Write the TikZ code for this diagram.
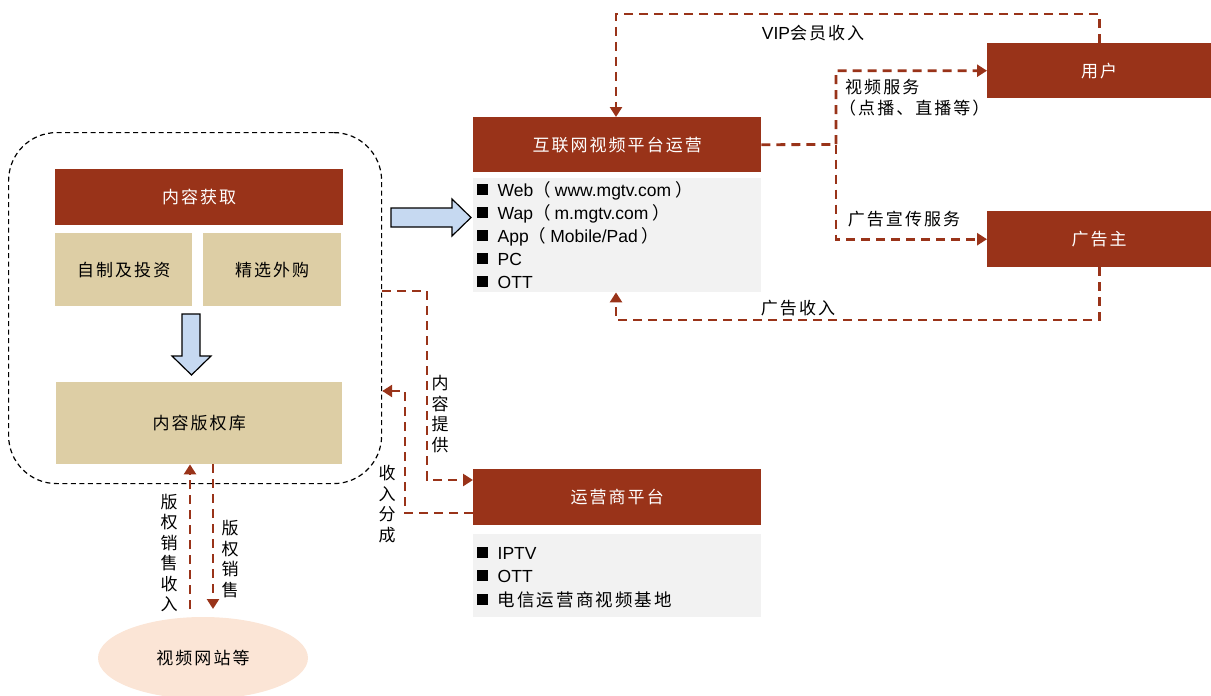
\documentclass[tikz,border=0pt]{standalone}
\usepackage{fontspec}
\setmainfont{Liberation Sans}
\newfontfamily\cjkf{Noto Sans CJK SC}[LetterSpace=12]
\usetikzlibrary{arrows.meta,shapes.geometric}

\definecolor{brick}{RGB}{153,51,25}
\definecolor{sand}{RGB}{221,206,165}
\definecolor{panel}{RGB}{242,242,242}
\definecolor{sky}{RGB}{198,217,241}
\definecolor{peach}{RGB}{251,229,214}

\newcommand{\zh}[1]{{\cjkf #1}}
\newcommand{\blt}{\rule[1.5pt]{10.5pt}{10.5pt}\hspace{10pt}}

\tikzset{
  zhfont/.style={font=\cjkf\fontsize{17}{20.5}\selectfont},
  redbox/.style={fill=brick, text=white, zhfont, inner sep=0pt, anchor=north west},
  sandbox/.style={fill=sand, text=black, zhfont, inner sep=0pt, anchor=north west},
  panelbox/.style={fill=panel, inner sep=0pt, anchor=north west},
  item/.style={font=\fontsize{17.5}{20}\selectfont, inner sep=0pt, anchor=base west},
  lbl/.style={zhfont, inner sep=0pt},
  vlbl/.style={zhfont, inner sep=0pt, align=center},
  flow/.style={draw=brick, line width=2.8pt, dash pattern=on 9pt off 6pt},
  tip/.style={-{Triangle[length=10pt,width=12pt]}},
  blockarrow/.style={fill=sky, draw=black, line width=1.2pt, line join=miter},
}

\begin{document}
\begin{tikzpicture}[x=1pt,y=-1pt]
\useasboundingbox (0,0) rectangle (1211,696);

% dashed frame around the content side
\node[draw=black, line width=1.2pt, dash pattern=on 5pt off 3.5pt,
      rounded corners=48pt, minimum width=373pt, minimum height=351pt,
      inner sep=0pt, anchor=north west] (hub) at (8,132) {};

% content acquisition
\node[redbox, minimum width=288pt, minimum height=56pt] (acq) at (55,169) {内容获取};
\node[sandbox, minimum width=137pt, minimum height=73pt] (self) at (55,233) {自制及投资};
\node[sandbox, minimum width=138pt, minimum height=73pt] (buy) at (203,233) {精选外购};
\node[sandbox, minimum width=286pt, minimum height=82pt] (lib) at (56,382) {内容版权库};

% block arrows
\draw[blockarrow] (182,314) -- (200,314) -- (200,356) -- (211,356) -- (191.5,375)
  -- (172,356) -- (182,356) -- cycle;
\draw[blockarrow] (391,208) -- (452,208) -- (452,199) -- (471,217.5) -- (452,236)
  -- (452,227) -- (391,227) -- cycle;

% internet platform
\node[redbox, minimum width=288pt, minimum height=55pt] (net) at (473,117) {互联网视频平台运营};
\node[panelbox, minimum width=288pt, minimum height=114pt] (netlist) at (473,178) {};
\node[item] (n1) at (477,196) {\blt Web\zh{（}\hspace{4pt}www.mgtv.com\hspace{4pt}\zh{）}};
\node[item] (n2) at (477,219) {\blt Wap\zh{（}\hspace{4pt}m.mgtv.com\hspace{4pt}\zh{）}};
\node[item] (n3) at (477,242) {\blt App\zh{（}\hspace{4pt}Mobile/Pad\hspace{4pt}\zh{）}};
\node[item] (n4) at (477,265) {\blt PC};
\node[item] (n5) at (477,288) {\blt OTT};

% operator platform
\node[redbox, minimum width=288pt, minimum height=56pt] (op) at (473,469) {运营商平台};
\node[panelbox, minimum width=288pt, minimum height=83pt] (oplist) at (473,534) {};
\node[item] (o1) at (477,559) {\blt IPTV};
\node[item] (o2) at (477,582) {\blt OTT};
\node[item] (o3) at (477,606) {\blt \zh{电信运营商视频基地}};

% users and advertisers
\node[redbox, minimum width=224pt, minimum height=55pt] (user) at (987,43) {用户};
\node[redbox, minimum width=224pt, minimum height=56pt] (adv) at (987,211) {广告主};

% video sites
\node[ellipse, fill=peach, minimum width=210pt, minimum height=82pt, inner sep=0pt, zhfont]
  (site) at (203,658) {视频网站等};

% bend points
\coordinate (topL) at (616,14);
\coordinate (botL) at (616,320);
\coordinate (split) at (836,144.5);
\coordinate (c1) at (427,291);
\coordinate (c2) at (427,480);
\coordinate (c3) at (405,513);
\coordinate (c4) at (405,391);
\coordinate (c5) at (190,609);
\coordinate (c6) at (213,609);

% money and service flows
\draw[flow,tip] (user.north) |- (topL) -- (net.north -| topL);
\draw[flow,tip] (adv.south) |- (botL) -- (netlist.south -| botL);
\draw[flow,tip] (net.east) -- (split) |- (user.west);
\draw[flow,tip] (split) |- (adv.west);
\draw[flow,tip] (hub.east |- c1) -- (c1) -- (c2) -- (op.west |- c2);
\draw[flow,tip] (op.west |- c3) -- (c3) -- (c4) -- (hub.east |- c4);
\draw[flow,tip] (c5) -- (lib.south -| c5);
\draw[flow,tip] (lib.south -| c6) -- (c6);

% flow labels
\node[inner sep=0pt, font=\fontsize{17.5}{20}\selectfont] (tvip) at (813,33)
  {VIP\zh{\fontsize{17}{20}\selectfont 会员收入}};
\node[lbl, anchor=west] (tsvc) at (845,87) {视频服务};
\node[lbl, anchor=west] (tsvc2) at (839,108) {（点播、直播等）};
\node[lbl] (tads) at (904,219) {广告宣传服务};
\node[lbl] (tinc) at (798,308) {广告收入};
\node[vlbl] (tsup) at (440,414) {内\\容\\提\\供};
\node[vlbl] (tshr) at (387,504) {收\\入\\分\\成};
\node[vlbl] (tcri) at (169,553) {版\\权\\销\\售\\收\\入};
\node[vlbl] (tcrs) at (230,559) {版\\权\\销\\售};
\end{tikzpicture}
\end{document}
